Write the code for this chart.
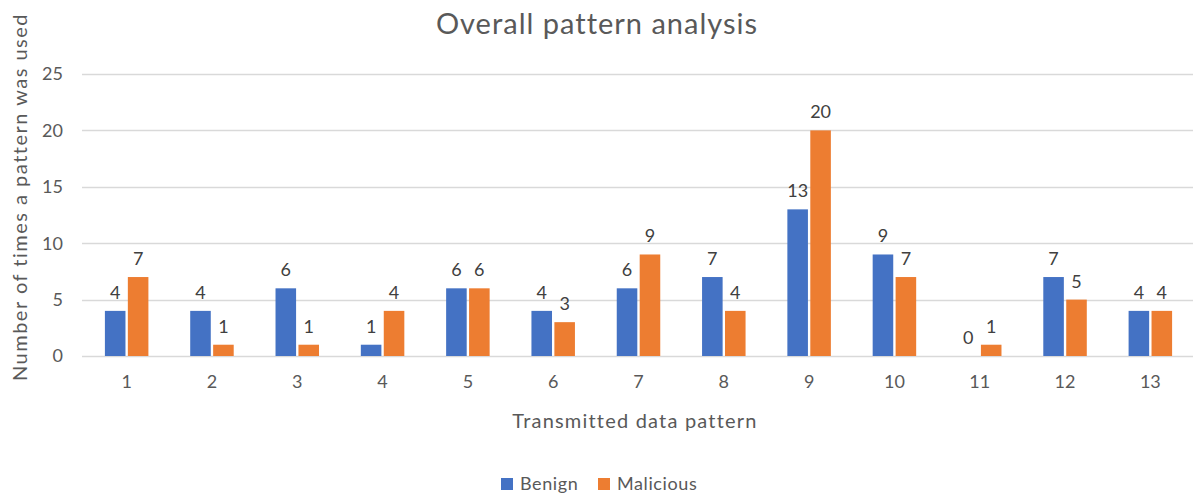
<!DOCTYPE html>
<html>
<head>
<meta charset="utf-8">
<script src="https://cdn.jsdelivr.net/npm/d3@7"></script>
<style>
  body { margin: 0; background: #fff; }
  svg { display: block; font-family: Lato, 'Open Sans', sans-serif; }
</style>
</head>
<body>
<div id="svg-container"></div>
<script>
const categories = ['1', '2', '3', '4', '5', '6', '7', '8', '9', '10', '11', '12', '13']
const benign = [4, 4, 6, 1, 6, 4, 6, 7, 13, 9, 0, 7, 4]
const malicious = [7, 1, 1, 4, 6, 3, 9, 4, 20, 7, 1, 5, 4]
const yTicks = [0, 5, 10, 15, 20, 25]
const seriesNames = ['Benign', 'Malicious']
const colors = ['#4472C4', '#ED7D31']

const width = 1194
const height = 495
const margin = { top: 74, right: 1, bottom: 139, left: 84 }

const svg = d3
  .select('#svg-container')
  .append('svg')
  .attr('width', width)
  .attr('height', height)

const xScale = d3
  .scaleBand()
  .domain(categories)
  .range([margin.left, width - margin.right])
  .paddingInner(0)
  .paddingOuter(0)

const barW = 19.5
const gap = 4.5
const xSeries = d3
  .scaleBand()
  .domain(seriesNames)
  .range([
    xScale.bandwidth() / 2 - barW - gap / 2,
    xScale.bandwidth() / 2 + barW + gap / 2,
  ])
  .paddingInner(gap / (barW + gap / 2) / 2)

const yScale = d3
  .scaleLinear()
  .domain([0, 25])
  .range([height - margin.bottom, margin.top])

// gridlines
svg
  .append('g')
  .attr('class', 'grid')
  .selectAll('line')
  .data(yTicks)
  .join('line')
  .attr('x1', margin.left - 2)
  .attr('x2', width - margin.right)
  .attr('y1', d => Math.round(yScale(d)) + 0.5)
  .attr('y2', d => Math.round(yScale(d)) + 0.5)
  .attr('stroke', '#d9d9d9')
  .attr('stroke-width', 1.3)

// y tick labels
svg
  .append('g')
  .selectAll('text')
  .data(yTicks)
  .join('text')
  .attr('x', 63)
  .attr('y', d => yScale(d))
  .attr('dy', '0.35em')
  .attr('text-anchor', 'end')
  .attr('fill', '#595959')
  .style('font-size', '18px')
  .text(d => d)

// x tick labels
svg
  .append('g')
  .selectAll('text')
  .data(categories)
  .join('text')
  .attr('x', d => xScale(d) + xScale.bandwidth() / 2)
  .attr('y', yScale(0) + 32)
  .attr('text-anchor', 'middle')
  .attr('fill', '#595959')
  .style('font-size', '18px')
  .text(d => d)

const rows = categories.map((c, i) => ({
  cat: c,
  values: [
    { s: 'Benign', v: benign[i] },
    { s: 'Malicious', v: malicious[i] },
  ],
}))

const groups = svg
  .append('g')
  .selectAll('g.cat')
  .data(rows)
  .join('g')
  .attr('class', 'cat')
  .attr('transform', d => `translate(${xScale(d.cat)}, 0)`)

groups
  .selectAll('rect')
  .data(d => d.values)
  .join('rect')
  .attr('x', d => xSeries(d.s))
  .attr('width', xSeries.bandwidth())
  .attr('y', d => yScale(d.v))
  .attr('height', d => yScale(0) - yScale(d.v))
  .attr('fill', (d, i) => colors[i])

groups
  .selectAll('text')
  .data(d => d.values)
  .join('text')
  .attr('x', d => xSeries(d.s) + xSeries.bandwidth() / 2)
  .attr('y', d => yScale(d.v) - 12)
  .attr('text-anchor', 'middle')
  .attr('fill', '#404040')
  .style('font-size', '18px')
  .text(d => d.v)

// title
svg
  .append('text')
  .attr('x', 597)
  .attr('y', 34)
  .attr('text-anchor', 'middle')
  .attr('fill', '#595959')
  .style('font-size', '29px')
  .style('letter-spacing', '1px')
  .text('Overall pattern analysis')

// x-axis title
svg
  .append('text')
  .attr('x', 635)
  .attr('y', 428)
  .attr('text-anchor', 'middle')
  .attr('fill', '#595959')
  .style('font-size', '20px')
  .style('letter-spacing', '1.2px')
  .text('Transmitted data pattern')

// y-axis title
svg
  .append('text')
  .attr('transform', `translate(27, 197) rotate(-90)`)
  .attr('text-anchor', 'middle')
  .attr('fill', '#595959')
  .style('font-size', '20px')
  .style('letter-spacing', '1.5px')
  .text('Number of times a pattern was used')

// legend
const legend = svg
  .append('g')
  .selectAll('g')
  .data(seriesNames)
  .join('g')
  .attr('transform', (d, i) => `translate(${[501, 598][i]}, 478)`)

legend
  .append('rect')
  .attr('width', 12)
  .attr('height', 12)
  .attr('fill', (d, i) => colors[i])

legend
  .append('text')
  .attr('x', 19)
  .attr('y', 6)
  .attr('dy', '0.35em')
  .attr('fill', '#595959')
  .style('font-size', '18px')
  .style('letter-spacing', '0.6px')
  .text(d => d)
</script>
</body>
</html>
